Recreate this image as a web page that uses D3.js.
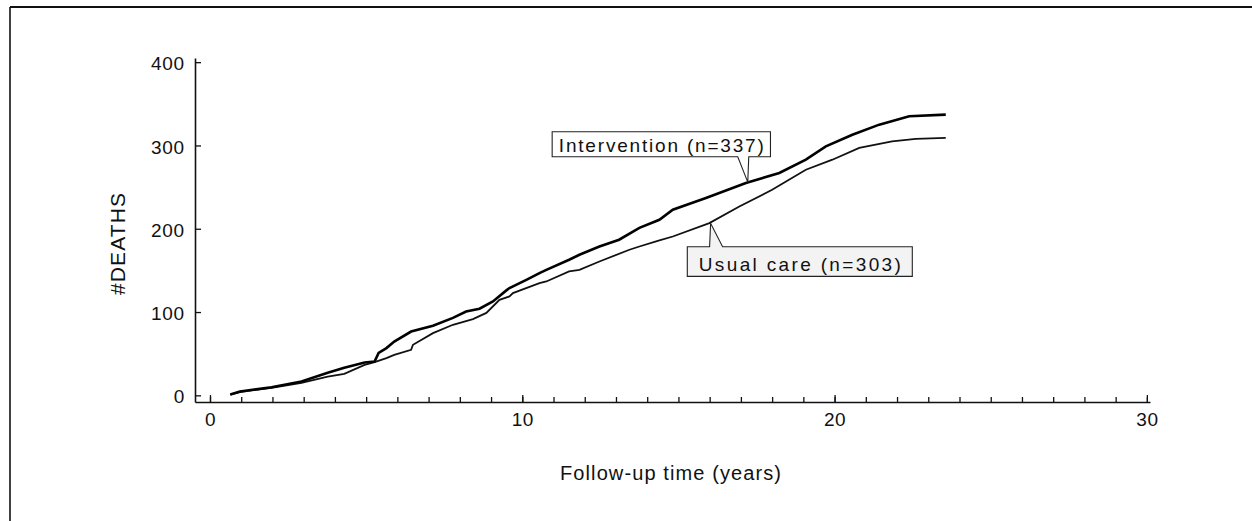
<!DOCTYPE html>
<html>
<head>
<meta charset="utf-8">
<script src="https://cdn.jsdelivr.net/npm/d3@7"></script>
<style>
  html, body { margin: 0; padding: 0; background: #fff; }
  svg { display: block; }
  text { font-family: "Liberation Sans", Arial, Helvetica, sans-serif; fill: #111; }
</style>
</head>
<body>
<svg id="chart" width="1252" height="521"></svg>
<script>
// ---- Data ----
const yTicks = [0, 100, 200, 300, 400];
const xMajorTicks = [0, 10, 20, 30];
const xMinorTicks = d3.range(0, 31);

const interventionTime = [0.65, 0.96, 1.97, 2.93, 3.77, 4.3, 4.95, 5.27, 5.4, 5.65, 5.9, 6.44, 7.14, 7.78, 8.2, 8.63, 9.06, 9.49, 9.59, 10.13, 10.55, 10.77, 11.5, 11.83, 12.47, 13.1, 13.75, 14.39, 14.82, 15.88, 17.16, 18.23, 19.08, 19.72, 20.57, 21.43, 22.39, 23.56];
const interventionDeaths = [1, 4.6, 9.8, 16.6, 27, 33, 39.4, 40.6, 51, 56.7, 64.6, 76.6, 83.5, 93, 100.7, 104, 112.7, 126, 128.8, 138.7, 146.8, 150.7, 162.8, 168.8, 178.7, 186.8, 201, 210.8, 222.8, 236.9, 254.9, 267, 282.9, 298.9, 312.9, 325, 335, 337];

const usualTime = [0.65, 0.96, 1.97, 2.93, 3.77, 4.3, 4.95, 5.27, 5.65, 5.9, 6.44, 6.5, 7.14, 7.78, 8.42, 8.85, 9.27, 9.59, 9.7, 10.55, 10.77, 11.5, 11.83, 12.47, 13.43, 13.75, 14.39, 14.82, 15.99, 16.95, 18.0, 19.08, 19.93, 20.79, 21.84, 22.6, 23.56];
const usualDeaths = [1, 4, 9, 15, 22.6, 25.8, 36.6, 40, 44.7, 48.6, 54.7, 60.7, 74.7, 84.7, 91.5, 99, 114.7, 118.7, 122.8, 134.8, 136.7, 148.7, 150.7, 160.7, 174.8, 178.7, 186, 190.7, 206.8, 226.8, 246.8, 270.9, 282.9, 297, 304.9, 307.8, 309];

const seriesLabels = ["Intervention (n=337)", "Usual care (n=303)"];
const xTitle = "Follow-up time (years)";
const yTitle = "#DEATHS";

// ---- Layout ----
const svg = d3.select("#chart");
const x = d3.scaleLinear().domain([-0.48, 30.1]).range([195, 1150]);
const y = d3.scaleLinear().domain([-8, 405]).range([402, 58]);

// page frame (top and left edges of the scanned figure)
svg.append("line").attr("x1", 10).attr("x2", 1252).attr("y1", 7).attr("y2", 7)
  .attr("stroke", "#111").attr("stroke-width", 1.8);
svg.append("line").attr("x1", 10).attr("x2", 10).attr("y1", 7).attr("y2", 521)
  .attr("stroke", "#111").attr("stroke-width", 1.6);

// ---- Axes ----
const yAxis = d3.axisLeft(y).tickValues(yTicks).tickSize(-6).tickSizeOuter(0).tickPadding(10);
const gy = svg.append("g").attr("transform", `translate(${x.range()[0]},0)`).call(yAxis);
gy.selectAll("text").attr("font-size", 19).attr("dy", "0.4em").style("letter-spacing", "0.8px")
  .attr("font-family", "Liberation Sans, Arial, sans-serif");

const xMinor = d3.axisBottom(x).tickValues(xMinorTicks).tickSize(-5).tickSizeOuter(0).tickFormat("");
const gxm = svg.append("g").attr("transform", `translate(0,${y.range()[0]})`).call(xMinor);
const xMajor = d3.axisBottom(x).tickValues(xMajorTicks).tickSize(-7).tickSizeOuter(0).tickPadding(11);
const gx = svg.append("g").attr("transform", `translate(0,${y.range()[0]})`).call(xMajor);
gx.select(".domain").remove();
gx.selectAll("text").attr("font-size", 19).style("letter-spacing", "0.5px")
  .attr("font-family", "Liberation Sans, Arial, sans-serif");

[gy, gxm, gx].forEach(g => {
  g.selectAll(".domain").attr("stroke", "#111").attr("stroke-width", 1.6);
  g.selectAll(".tick line").attr("stroke", "#111").attr("stroke-width", 1.3);
  g.selectAll("text").attr("fill", "#111");
});

// axis titles
svg.append("text").attr("x", 670.5).attr("y", 479.5).attr("text-anchor", "middle")
  .attr("font-size", 20).attr("textLength", 221).attr("lengthAdjust", "spacing").text(xTitle);
svg.append("text").attr("transform", "translate(125,244) rotate(-90)").attr("text-anchor", "middle")
  .attr("font-size", 21).attr("textLength", 102).attr("lengthAdjust", "spacing").text(yTitle);

// ---- Curves ----
const line = d3.line().x(d => x(d[0])).y(d => y(d[1])).curve(d3.curveLinear);
const interv = interventionTime.map((t, i) => [t, interventionDeaths[i]]);
const usual = usualTime.map((t, i) => [t, usualDeaths[i]]);

svg.append("path").datum(usual).attr("d", line).attr("fill", "none")
  .attr("stroke", "#111").attr("stroke-width", 1.8).attr("stroke-linejoin", "miter");
svg.append("path").datum(interv).attr("d", line).attr("fill", "none")
  .attr("stroke", "#000").attr("stroke-width", 2.6).attr("stroke-linejoin", "miter");

// ---- Callout labels ----
function callout(anchorT, anchorV, box, base, text, textLen, fill) {
  const ax = x(anchorT), ay = y(anchorV);
  const L = ax + box.l, R = ax + box.r, T = ay + box.t, B = ay + box.b;
  const b1 = ax + base[0], b2 = ax + base[1];
  let d;
  if (box.t < 0) { // box above anchor, pointer from bottom edge
    d = `M${L},${T}H${R}V${B}H${b2}L${ax},${ay}L${b1},${B}H${L}Z`;
  } else {          // box below anchor, pointer from top edge
    d = `M${L},${T}H${b1}L${ax},${ay}L${b2},${T}H${R}V${B}H${L}Z`;
  }
  svg.append("path").attr("d", d).attr("fill", fill).attr("stroke", "#222").attr("stroke-width", 1.1);
  svg.append("text").attr("x", (L + R) / 2).attr("y", B - 5).attr("text-anchor", "middle")
    .attr("font-size", 19).attr("textLength", textLen).attr("lengthAdjust", "spacing").text(text);
}

callout(17.22, 256, {l: -195.6, r: 22.7, t: -50.3, b: -25.3}, [-10, 1], seriesLabels[0], 205, "#fff");
callout(16.03, 206.5, {l: -23.3, r: 201.7, t: 23.4, b: 53}, [-1, 12], seriesLabels[1], 202, "#f3f3f3");
</script>
</body>
</html>
